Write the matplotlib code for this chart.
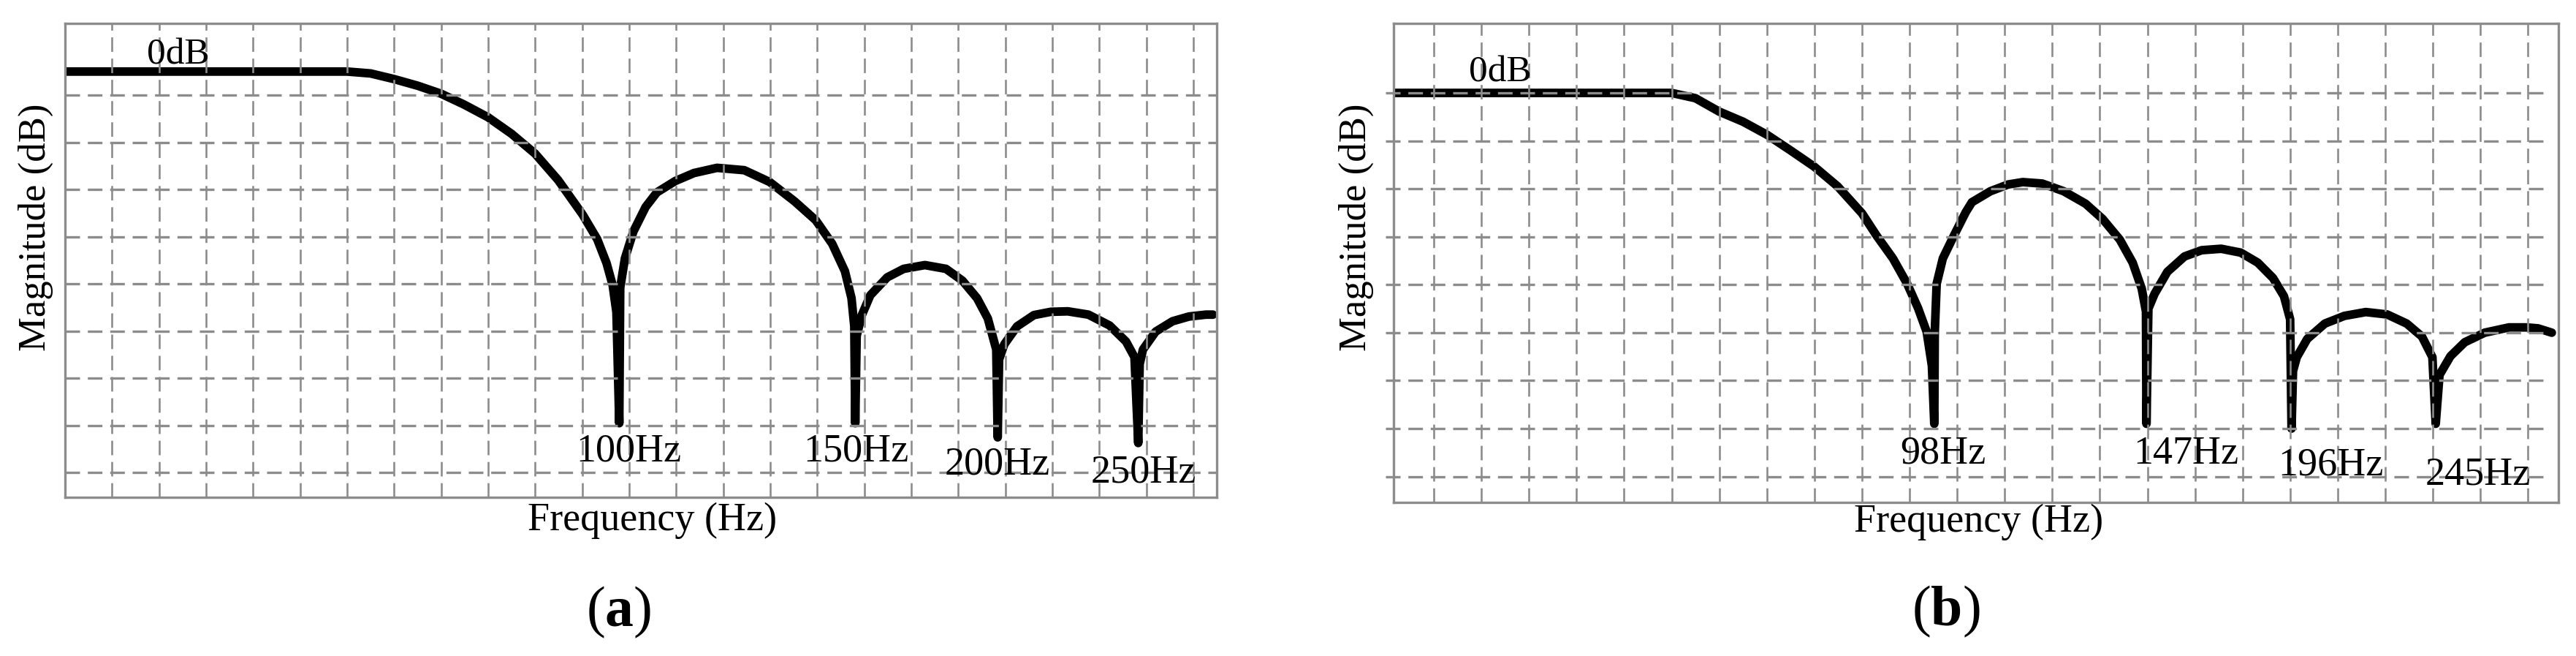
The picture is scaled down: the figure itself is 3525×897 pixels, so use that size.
import matplotlib
matplotlib.use("Agg")
import matplotlib.pyplot as plt

# x is in grid columns (one dashed column = 1), y in dB (one dashed row = 10 dB)

# panel (a)
freq_a = [0.0, 6.0, 6.5, 7.0, 7.5, 8.0, 8.49, 9.0, 9.5, 10.0, 10.49, 11.01, 11.32, 11.52, 11.65, 11.73, 11.79,
          11.81, 11.91, 12.09, 12.35, 12.59, 12.98, 13.38, 13.87, 14.45, 14.99, 15.52, 15.97, 16.32, 16.59,
          16.73, 16.79, 16.81,
          16.84, 16.95, 17.13, 17.49, 17.84, 18.29, 18.74, 19.09, 19.4, 19.63, 19.81, 19.84,
          19.87, 19.98, 20.25, 20.61, 20.97, 21.33, 21.77, 22.22, 22.57, 22.75, 22.83,
          22.86, 22.93, 23.2, 23.56, 23.91, 24.27, 24.42]
mag_a = [0.0, 0.0, -0.4, -1.6, -3.0, -4.7, -7.0, -9.7, -13.2, -17.4, -23.0, -30.3, -35.5, -40.6, -45.3, -51.0, -74.5,
         -45.8, -39.6, -33.9, -28.7, -25.6, -23.2, -21.5, -20.4, -20.9, -23.4, -27.5, -31.5, -36.5, -42.3,
         -48.0, -54.0, -74.5,
         -56.0, -51.6, -47.4, -43.6, -41.8, -41.0, -41.8, -44.3, -48.0, -52.3, -58.9, -77.5,
         -61.0, -57.8, -54.0, -51.6, -50.9, -50.8, -51.5, -53.8, -57.2, -60.5, -78.7,
         -62.0, -58.9, -55.1, -52.9, -51.9, -51.5, -51.5]
null_labels_a = ["100Hz", "150Hz", "200Hz", "250Hz"]
label_x_a = [11.99, 16.83, 19.83, 22.95]
label_y_a = [-82.6, -82.6, -85.3, -87.1]
rows_a = [-5, -15, -25, -35, -45, -55, -65, -75, -85]

# panel (b)
freq_b = [0.16, 6.0, 6.5, 7.0, 7.5, 8.0, 8.5, 9.0, 9.49, 10.0, 10.31, 10.65, 10.95, 11.18, 11.36, 11.47, 11.52,
          11.53, 11.57, 11.7, 11.93, 12.18, 12.31, 12.7, 13.07, 13.38, 13.79, 14.24, 14.7, 15.06, 15.42,
          15.69, 15.88, 15.97, 15.98,
          16.02, 16.15, 16.42, 16.78, 17.14, 17.55, 17.96, 18.32, 18.64, 18.87, 19.0, 19.03,
          19.06, 19.14, 19.36, 19.73, 20.14, 20.59, 21.04, 21.45, 21.77, 21.99, 22.06,
          22.14, 22.37, 22.67, 23.09, 23.6, 23.96, 24.21, 24.5]
mag_b = [0.0, 0.0, -1.1, -3.9, -6.0, -8.7, -12.0, -15.4, -19.5, -25.1, -29.8, -34.5, -39.8, -44.9, -49.8, -56.9, -69.0,
         -50.0, -39.8, -34.5, -29.8, -24.9, -22.8, -20.5, -19.1, -18.6, -18.9, -20.5, -23.1, -26.3, -30.6,
         -35.4, -40.8, -45.6, -69.0,
         -45.0, -41.9, -37.3, -34.1, -32.8, -32.5, -33.3, -35.4, -38.6, -42.4, -47.2, -70.0,
         -58.0, -55.1, -51.3, -48.1, -46.5, -45.7, -46.2, -48.1, -50.8, -55.1, -69.0,
         -58.8, -54.9, -52.0, -50.0, -48.9, -48.9, -49.1, -50.0]
null_labels_b = ["98Hz", "147Hz", "196Hz", "245Hz"]
label_x_b = [11.71, 16.81, 19.86, 22.94]
label_y_b = [-77.3, -77.3, -79.7, -81.6]
rows_b = [0, -10, -20, -30, -40, -50, -60, -70, -80]

columns = list(range(1, 25))

W, H = 3525, 897
GRID = "#8c8c8c"

plt.rcParams["font.family"] = ["Liberation Serif", "DejaVu Serif"]
plt.rcParams["mathtext.fontset"] = "custom"
plt.rcParams["mathtext.rm"] = "Liberation Serif"
plt.rcParams["mathtext.bf"] = "Liberation Serif:bold"

fig = plt.figure(figsize=(W / 100, H / 100), dpi=100)


def box(left, top, right, bottom):
    return [left / W, 1 - bottom / H, (right - left) / W, (bottom - top) / H]


def fig_xy(x, y):
    return x / W, 1 - y / H


def draw_panel(ax, freq, mag, xlim, ylim, rows, labels, lx, ly, zero_xy, row_span=None):
    ax.set_xlim(*xlim)
    ax.set_ylim(*ylim)
    ax.set_xticks([])
    ax.set_yticks([])
    for s in ax.spines.values():
        s.set_color(GRID)
        s.set_linewidth(2.4)

    ax.plot(freq, mag, color="black", lw=8.5, solid_capstyle="round",
            solid_joinstyle="round", zorder=2)

    for x in columns:
        ax.axvline(x, color=GRID, lw=1.9, ls=(0, (7.5, 3.5)), zorder=3)
    for y in rows:
        if row_span is None:
            ax.axhline(y, color=GRID, lw=2.4, ls=(0, (6, 3.2)), zorder=3)
        else:
            ax.plot(row_span, [y, y], color=GRID, lw=2.4, ls=(0, (6, 3.2)),
                    zorder=3, clip_on=False)

    ax.text(zero_xy[0], zero_xy[1], "0dB", ha="center", va="baseline",
            fontsize=37, zorder=4)
    for t, x, y in zip(labels, lx, ly):
        ax.text(x, y, t, ha="center", va="baseline", fontsize=39, zorder=4)


ax_a = fig.add_axes(box(89, 32, 1665, 680))
draw_panel(ax_a, freq_a, mag_a, (0, 24.5), (-90.2, 10.2), rows_a,
           null_labels_a, label_x_a, label_y_a, (2.41, 1.55))

ax_b = fig.add_axes(box(1907, 32, 3501, 687))
draw_panel(ax_b, freq_b, mag_b, (0.155, 24.64), (-85.4, 14.5), rows_b,
           null_labels_b, label_x_b, label_y_b, (2.4, 2.3), row_span=(-0.02, 24.33))

# axis titles and panel letters
for cx, cy in [(893, 712), (2708, 714)]:
    fig.text(*fig_xy(cx, cy), "Frequency (Hz)", ha="center", va="center", fontsize=39)
for cx in [49, 1856]:
    fig.text(*fig_xy(cx, 142), "Magnitude (dB)", ha="center", va="top",
             rotation=90, fontsize=38)
fig.text(*fig_xy(847, 837), r"($\mathbf{a}$)", ha="center", va="center", fontsize=56)
fig.text(*fig_xy(2663, 836), r"($\mathbf{b}$)", ha="center", va="center", fontsize=56)

fig.savefig("out.png", dpi=100, facecolor="white")
